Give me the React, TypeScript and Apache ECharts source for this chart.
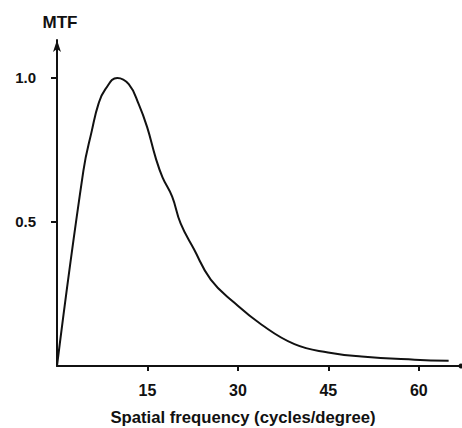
import React, { useEffect, useRef } from "react";
import * as echarts from "echarts";

const freq = [0, 4.38, 5.78, 6.88, 8.0, 10.0, 11.9, 13.55, 14.95, 16.33, 17.5, 19.1, 20.5, 22.72, 25.5, 29.38, 33.83, 39.38, 44.95, 50.5, 59.33, 64.95];
const mtf = [0, 0.678, 0.817, 0.91, 0.96, 1.0, 0.978, 0.909, 0.829, 0.725, 0.655, 0.588, 0.495, 0.405, 0.3, 0.22, 0.145, 0.076, 0.047, 0.033, 0.022, 0.018];
const xTicks = [15, 30, 45, 60];
const yTicks = [0.5, 1.0];
const yTitle = "MTF";
const xTitle = "Spatial frequency (cycles/degree)";

const FONT = "'Liberation Sans', Arial, sans-serif";
const INK = "#111";

export default function App() {
  const ref = useRef<HTMLDivElement>(null);
  useEffect(() => {
    if (!ref.current) return;
    const chart = echarts.init(ref.current, null, { renderer: "svg" });
    const data = freq.map((f, i) => [f, mtf[i]]);
    chart.setOption({
      animation: false,
      backgroundColor: "#fff",
      grid: { left: 57, right: 1, top: 40, bottom: 62 },
      xAxis: {
        type: "value",
        min: 0,
        max: 67,
        axisLine: {
          show: true,
          lineStyle: { color: INK, width: 2 },
          symbol: ["none", "circle"],
          symbolSize: [5, 5],
        },
        axisTick: { show: true, inside: false, length: 5, customValues: xTicks, lineStyle: { color: INK, width: 2 } },
        axisLabel: {
          customValues: xTicks,
          margin: 16,
          color: INK,
          fontFamily: FONT,
          fontSize: 16,
          fontWeight: "bold",
        },
        splitLine: { show: false },
      },
      yAxis: {
        type: "value",
        min: 0,
        max: 1.1315,
        axisLine: {
          show: true,
          lineStyle: { color: INK, width: 2 },
          symbol: ["none", "arrow"],
          symbolSize: [6, 12],
        },
        axisTick: { show: true, inside: false, length: 6, customValues: yTicks, lineStyle: { color: INK, width: 2 } },
        axisLabel: {
          customValues: yTicks,
          margin: 21,
          color: INK,
          fontFamily: FONT,
          fontSize: 15,
          fontWeight: "bold",
          formatter: (v: number) => v.toFixed(1),
        },
        splitLine: { show: false },
      },
      graphic: [
        {
          type: "text",
          x: 60,
          y: 22,
          style: { text: yTitle, font: `bold 17px ${FONT}`, fill: INK, align: "center", verticalAlign: "middle" },
        },
        {
          type: "text",
          x: 243,
          y: 417,
          style: {
            text: xTitle,
            font: `bold 16.7px ${FONT}`,
            fill: INK,
            align: "center",
            verticalAlign: "middle",
          },
        },
      ],
      series: [
        {
          type: "line",
          data,
          smooth: 0.45,
          showSymbol: false,
          lineStyle: { color: INK, width: 2 },
        },
      ],
    });
    return () => chart.dispose();
  }, []);
  return <div ref={ref} style={{ position: "absolute", left: 0, top: 0, width: 462, height: 428 }} />;
}
